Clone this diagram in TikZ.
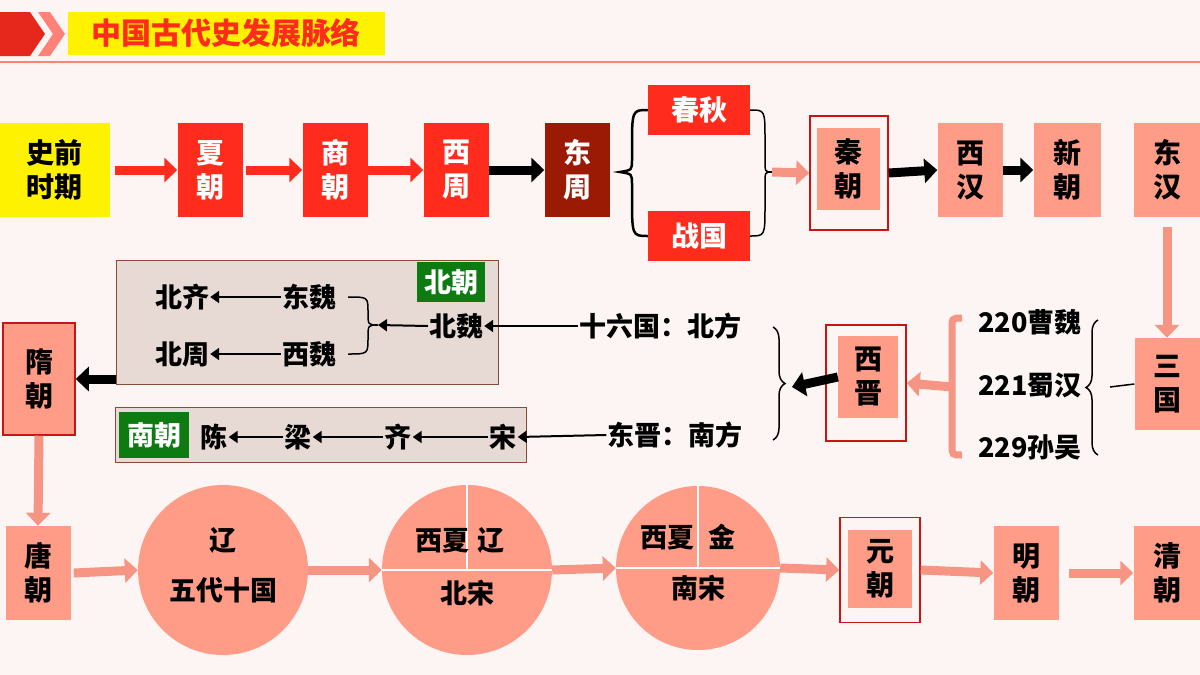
\documentclass[tikz,border=0pt]{standalone}
\usepackage{fontspec}
\setmainfont{Noto Sans CJK SC}[UprightFont=* Black]
\usetikzlibrary{arrows.meta,decorations.pathreplacing,calc}
\definecolor{bg}{HTML}{FDF5F3}
\definecolor{rbox}{HTML}{FF2C1E}
\definecolor{dbox}{HTML}{9A1A04}
\definecolor{sal}{HTML}{FF9C88}
\definecolor{sarr}{HTML}{F79585}
\definecolor{gbox}{HTML}{E7DAD5}
\definecolor{gbrd}{HTML}{8A4A3A}
\definecolor{grn}{HTML}{0E7A12}
\definecolor{frm}{HTML}{C81414}
\begin{document}
\begin{tikzpicture}[x=1pt,y=-1pt,
  bx/.style={minimum width=65pt,minimum height=94pt,inner sep=0pt,align=center,font=\fontsize{28}{34}\selectfont},
  rb/.style={bx,fill=rbox,text=white},
  db/.style={bx,fill=dbox,text=white},
  sb/.style={bx,fill=sal,text=black},
  fr/.style={draw=frm,line width=1.5pt,inner sep=0pt},
  fat/.style={line width=9pt,-{Triangle[length=13pt,width=24pt]}},
  ra/.style={fat,draw=rbox},
  sa/.style={fat,draw=sarr},
  ka/.style={fat,draw=black},
  tx/.style={font=\fontsize{27}{30}\selectfont,inner sep=1pt},
  thin/.style={line width=2pt,-{Triangle[length=9pt,width=12pt]}},
  br/.style={decorate,decoration={brace,amplitude=12pt},line width=1.5pt},
  circ/.style={circle,fill=sal,minimum size=170pt,inner sep=0pt}]
\useasboundingbox (0,0) rectangle (1200,675);
\fill[bg] (0,0) rectangle (1200,675);
% header
\fill[rbox!90!black] (0,12) -- (30,12) -- (45,34) -- (30,56) -- (0,56) -- cycle;
\fill[rbox!60] (38,12) -- (50,12) -- (65,34) -- (50,56) -- (38,56) -- (53,34) -- cycle;
\node[fill=yellow,text=rbox,minimum width=317pt,minimum height=43pt,font=\fontsize{30}{34}\selectfont] (title) at (226,33) {中国古代史发展脉络};
\draw[rbox!60,line width=2.5pt] (0,62) -- (1200,62);
% row 1
\node[bx,fill=yellow,minimum width=110pt] (sq) at (55,170) {史前\\时期};
\node[rb] (xia) at (210,170) {夏\\朝};
\node[rb] (shang) at (335,170) {商\\朝};
\node[rb] (xz) at (456,170) {西\\周};
\node[db] (dz) at (577,170) {东\\周};
\node[rb,minimum width=102pt,minimum height=50pt] (cq) at (699,110) {春秋};
\node[rb,minimum width=102pt,minimum height=50pt] (zg) at (699,236) {战国};
\node[sb,minimum width=63pt,minimum height=82pt] (qin) at (848,169) {秦\\朝};
\node[fr,minimum width=78pt,minimum height=114pt] (qinf) at (849,173) {};
\node[sb] (xh) at (970,170) {西\\汉};
\node[sb,minimum width=67pt] (xin) at (1067,170) {新\\朝};
\node[sb,minimum width=67pt] (dh) at (1167,170) {东\\汉};
\draw[ra] (sq.east)++(5,0) -- (xia.west);
\draw[ra] (xia.east)++(3,0) -- (shang.west);
\draw[ra] (shang.east) -- (xz.west);
\draw[ka] (xz.east) -- (dz.west);
\draw[line width=2.5pt] (cq.west) .. controls (632,110) .. (632,150) -- (632,160) .. controls (632,170) .. (620,172) .. controls (632,174) .. (632,184) -- (632,195) .. controls (632,236) .. (zg.west);
\draw[line width=1.5pt] (cq.east) .. controls (765,110) .. (765,140) -- (765,160) .. controls (765,172) .. (772,172) .. controls (765,172) .. (765,184) -- (765,205) .. controls (765,236) .. (zg.east);
\coordinate (qbr) at (772,172);
\draw[sa] (qbr) -- (qinf.west);
\draw[ka] (qinf.east) -- (xh.west);
\draw[ka] (xh.east) -- (xin.west);
% row 2
\node[sb,minimum width=65pt,minimum height=92pt] (sg) at (1167,384) {三\\国};
\draw[sa] (dh.south)++(0,10) -- (sg.north);
\node[tx] (cw) at (1030,322) {220曹魏};
\node[tx] (sh) at (1030,385) {221蜀汉};
\node[tx] (sw) at (1030,447) {229孙吴};
\draw[br] (1098,455) -- (1098,320);
\draw[line width=1.5pt] (1110,387) -- (sg.west);
\draw[sarr,line width=7pt] (962,318) .. controls (952,318) .. (952,330) -- (952,445) .. controls (952,455) .. (962,455);
\node[sb,minimum width=60pt,minimum height=82pt] (xj) at (868,377) {西\\晋};
\node[fr,minimum width=80pt,minimum height=116pt] (xjf) at (866,383) {};
\coordinate (xjb) at (952,387);
\coordinate (xjl) at (792,387);
\draw[sa] (xjb) -- (xjf.east);
\draw[ka] (xj.west) -- (xjl);
\draw[br] (773,327) -- (773,440);
\node[tx] (sl) at (660,326) {十六国：北方};
\node[tx] (dj) at (675,435) {东晋：南方};
\node[draw=gbrd,fill=gbox,line width=1pt,minimum width=382pt,minimum height=124pt] (g1) at (307,322) {};
\node[fill=grn,text=white,tx,minimum width=68pt,minimum height=40pt] (bc) at (451,282) {北朝};
\node[tx] (bq) at (182,297) {北齐};
\node[tx] (dw) at (309,297) {东魏};
\node[tx] (bz) at (182,354) {北周};
\node[tx] (xw) at (309,354) {西魏};
\node[tx] (bw) at (456,326) {北魏};
\draw[thin] (dw.west) -- (bq.east);
\draw[thin] (xw.west) -- (bz.east);
\draw[line width=1.5pt] (348,297) .. controls (368,297) .. (368,312) .. controls (368,325) .. (378,325) .. controls (368,325) .. (368,338) .. controls (368,354) .. (348,354);
\coordinate (bwb) at (378,325);
\draw[thin] (bw.west) -- (bwb);
\draw[thin] (sl.west) -- (bw.east);
\node[draw=gbrd,fill=gbox,line width=1pt,minimum width=411pt,minimum height=55pt] (g2) at (321,435) {};
\node[fill=grn,text=white,tx,minimum width=70pt,minimum height=46pt] (nc) at (154,435) {南朝};
\node[tx] (chen) at (214,437) {陈};
\node[tx] (liang) at (298,437) {梁};
\node[tx] (qi) at (398,437) {齐};
\node[tx] (song) at (503,437) {宋};
\draw[thin] (liang.west) -- (chen.east);
\draw[thin] (qi.west) -- (liang.east);
\draw[thin] (song.west) -- (qi.east);
\draw[thin] (dj.west) -- (song.east);
\node[sb,draw=frm,line width=1.5pt,minimum width=72pt,minimum height=112pt] (sui) at (39,379) {隋\\朝};
\draw[ka] (g1.west |- sui.east) -- (sui.east);
% row 3
\node[sb] (tang) at (38,573) {唐\\朝};
\draw[sa] (sui.south) -- (tang.north);
\node[circ] (c1) at (223,570) {};
\node[tx] (liao1) at (223,540) {辽};
\node[tx] (wd) at (223,590) {五代十国};
\node[circ] (c2) at (467,570) {};
\draw[white,line width=2pt] (c2.west) -- (c2.east) (c2.center) -- (c2.north);
\node[tx] (xx1) at (460,540) {西夏\hspace{8pt}辽};
\node[tx] (bs) at (467,593) {北宋};
\node[circ,minimum size=164pt] (c3) at (698,568) {};
\draw[white,line width=2pt] (c3.west) -- (c3.east) (c3.center) -- (c3.north);
\node[tx] (xx2) at (688,537) {西夏\hspace{14pt}金};
\node[tx] (ns) at (698,588) {南宋};
\node[sb,minimum width=64pt,minimum height=78pt] (yuan) at (880,569) {元\\朝};
\node[fr,minimum width=80pt,minimum height=105pt] (yuanf) at (880,570) {};
\node[sb] (ming) at (1026,573) {明\\朝};
\node[sb,minimum width=67pt] (qing) at (1167,573) {清\\朝};
\draw[sa] (tang.east)++(3,0) -- (c1.west);
\draw[sa] (c1.east) -- (c2.west);
\draw[sa] (c2.east) -- (c3.west);
\draw[sa] (c3.east) -- (yuanf.west);
\draw[sa] (yuanf.east) -- (ming.west);
\draw[sa] (ming.east)++(10,0) -- (qing.west);
\end{tikzpicture}
\end{document}
